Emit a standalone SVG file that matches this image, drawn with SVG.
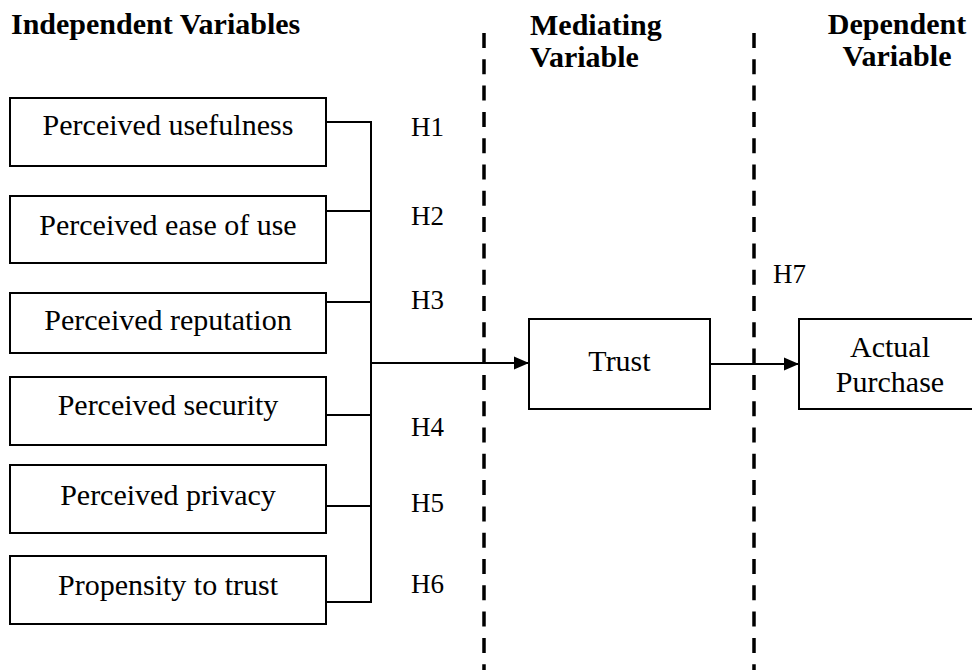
<svg xmlns="http://www.w3.org/2000/svg" width="972" height="670" viewBox="0 0 972 670">
  <style>
    .box { fill: #fff; stroke: #000; stroke-width: 2; }
    .lbl { font-family: "Liberation Serif", "Times New Roman", serif; font-size: 30px; fill: #000; text-anchor: middle; }
    .hyp { font-family: "Liberation Serif", "Times New Roman", serif; font-size: 27px; fill: #000; }
    .head { font-family: "Liberation Serif", "Times New Roman", serif; font-size: 30px; font-weight: bold; fill: #000; }
    .wire { fill: none; stroke: #000; stroke-width: 2; }
    .divider { fill: none; stroke: #000; stroke-width: 3.5; stroke-dasharray: 15 11.3; }
  </style>
  <defs>
    <marker id="arrow" markerUnits="userSpaceOnUse" markerWidth="16" markerHeight="14" refX="15" refY="7" orient="auto">
      <path d="M0,0.5 L15,7 L0,13.5 Z" fill="#000"/>
    </marker>
  </defs>
  <rect width="972" height="670" fill="#fff"/>

  <!-- section headings -->
  <g id="headings">
    <text class="head" x="11" y="34">Independent Variables</text>
    <text class="head" x="530" y="35">Mediating</text>
    <text class="head" x="530" y="67">Variable</text>
    <text class="head" x="897" y="34" text-anchor="middle">Dependent</text>
    <text class="head" x="897" y="66" text-anchor="middle">Variable</text>
  </g>

  <!-- dashed section dividers -->
  <g id="dividers">
    <line class="divider" x1="484" y1="33" x2="484" y2="670"/>
    <line class="divider" x1="754" y1="33" x2="754" y2="670"/>
  </g>

  <!-- connectors -->
  <g id="connectors">
    <path class="wire" d="M326,122 H371 M326,211 H371 M326,302 H371 M326,415 H371 M326,506 H371 M326,602 H371 M371,121 V603"/>
    <line class="wire" x1="371" y1="363" x2="529" y2="363" marker-end="url(#arrow)"/>
    <line class="wire" x1="710" y1="364" x2="799" y2="364" marker-end="url(#arrow)"/>
  </g>

  <!-- hypothesis labels -->
  <g id="hypotheses">
    <text class="hyp" x="411" y="136">H1</text>
    <text class="hyp" x="411" y="225">H2</text>
    <text class="hyp" x="411" y="309">H3</text>
    <text class="hyp" x="411" y="436">H4</text>
    <text class="hyp" x="411" y="512">H5</text>
    <text class="hyp" x="411" y="593">H6</text>
    <text class="hyp" x="773" y="283">H7</text>
  </g>

  <!-- independent variables -->
  <g id="usefulness">
    <rect class="box" x="10" y="98" width="316" height="68"/>
    <text class="lbl" x="168" y="135">Perceived usefulness</text>
  </g>
  <g id="ease-of-use">
    <rect class="box" x="10" y="196" width="316" height="67"/>
    <text class="lbl" x="168" y="235">Perceived ease of use</text>
  </g>
  <g id="reputation">
    <rect class="box" x="10" y="293" width="316" height="60"/>
    <text class="lbl" x="168" y="330">Perceived reputation</text>
  </g>
  <g id="security">
    <rect class="box" x="10" y="377" width="316" height="68"/>
    <text class="lbl" x="168" y="415">Perceived security</text>
  </g>
  <g id="privacy">
    <rect class="box" x="10" y="465" width="316" height="68"/>
    <text class="lbl" x="168" y="505">Perceived privacy</text>
  </g>
  <g id="propensity">
    <rect class="box" x="10" y="556" width="316" height="68"/>
    <text class="lbl" x="168" y="595">Propensity to trust</text>
  </g>

  <!-- mediating variable -->
  <g id="trust">
    <rect class="box" x="529" y="319" width="181" height="90"/>
    <text class="lbl" x="619.5" y="371">Trust</text>
  </g>

  <!-- dependent variable -->
  <g id="actual-purchase">
    <rect class="box" x="799" y="319" width="182" height="90"/>
    <text class="lbl" x="890" y="357">Actual</text>
    <text class="lbl" x="890" y="392">Purchase</text>
  </g>
</svg>
